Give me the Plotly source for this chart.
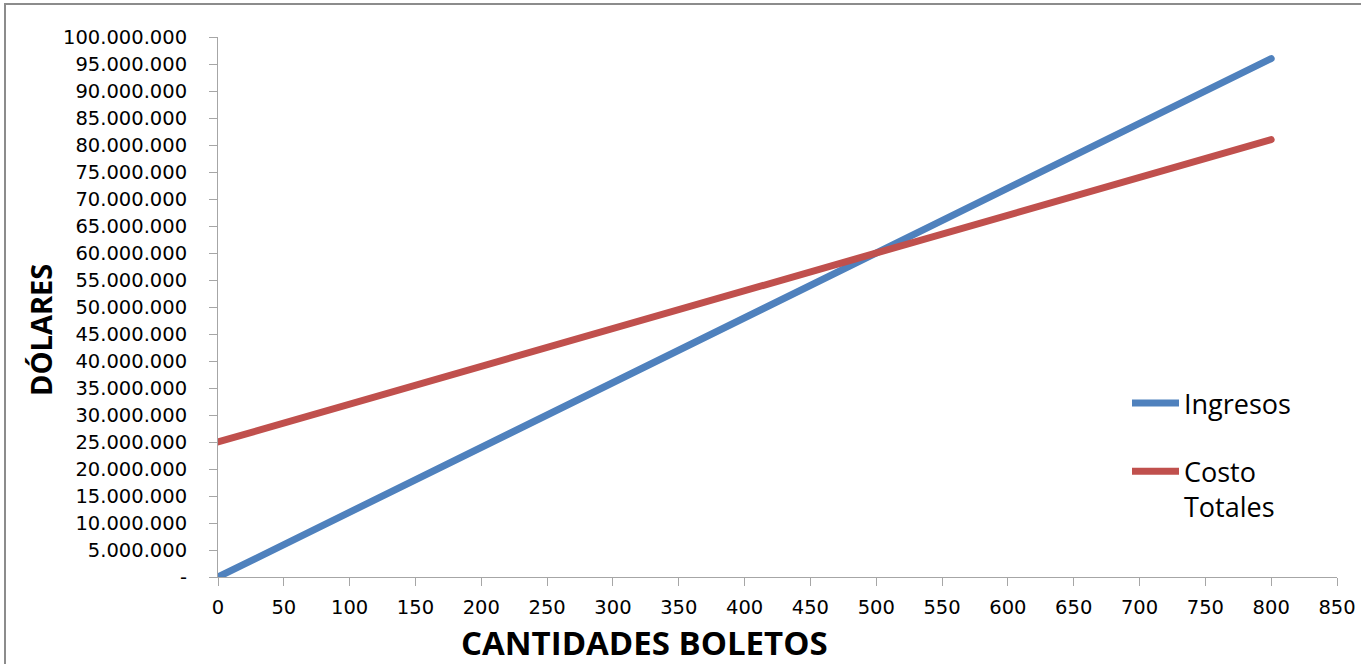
import plotly.graph_objects as go

cantidades = [0, 100, 200, 300, 400, 500, 600, 700, 800]
ingresos = [0, 12000000, 24000000, 36000000, 48000000, 60000000, 72000000, 84000000, 96000000]
costos = [25000000, 32000000, 39000000, 46000000, 53000000, 60000000, 67000000, 74000000, 81000000]

y_ticks = list(range(0, 100000001, 5000000))
y_labels = ["-"] + [f"{v:,}".replace(",", ".") for v in y_ticks[1:]]
x_ticks = list(range(0, 851, 50))

W, H = 1361, 664
L, R, T, B = 218, 24, 37, 87
pw, ph = W - L - R, H - T - B


def px(x):
    return (x - L) / pw


def py(y):
    return (H - y - B) / ph


fig = go.Figure()
fig.add_trace(go.Scatter(x=cantidades, y=ingresos, mode="lines", name="Ingresos",
                         legendgroup="a", line=dict(color="#4F81BD", width=7)))
fig.add_trace(go.Scatter(x=cantidades, y=costos, mode="lines", name="Costo<br>Totales",
                         legendgroup="b", line=dict(color="#C0504D", width=7)))

font = "Open Sans, Liberation Sans, sans-serif"
tickfont = "DejaVu Sans, Open Sans, sans-serif"
fig.update_layout(
    width=W, height=H,
    margin=dict(l=L, r=R, t=T, b=B, autoexpand=False),
    paper_bgcolor="white", plot_bgcolor="white",
    font=dict(family=font, color="black"),
    showlegend=True,
    legend=dict(x=px(1127), y=py(379), xanchor="left", yanchor="top",
                font=dict(size=27, family=font), itemwidth=47, tracegroupgap=30,
                traceorder="grouped", valign="top",
                bgcolor="rgba(0,0,0,0)"),
    xaxis=dict(range=[0, 850], tickvals=x_ticks, ticktext=[str(v) for v in x_ticks],
               automargin=False,
               showgrid=False, zeroline=False, showline=True, linecolor="#A6A6A6", linewidth=1,
               ticks="outside", ticklen=8, tickcolor="#A6A6A6", ticklabelstandoff=5,
               tickfont=dict(size=19.5, family=tickfont)),
    yaxis=dict(range=[0, 100000000], tickvals=y_ticks, ticktext=y_labels,
               automargin=False,
               showgrid=False, zeroline=False, showline=True, linecolor="#A6A6A6", linewidth=1,
               ticks="outside", ticklen=8, tickcolor="#A6A6A6", ticklabelstandoff=18,
               tickfont=dict(size=19.5, family=tickfont)),
    annotations=[
        dict(text="<b>CANTIDADES BOLETOS</b>", xref="paper", yref="paper",
             x=px(644), y=py(642), xanchor="center", yanchor="middle",
             showarrow=False, font=dict(size=33, family=font)),
        dict(text="<b>DÓLARES</b>", xref="paper", yref="paper",
             x=px(41), y=py(330), xanchor="center", yanchor="middle",
             textangle=-90, showarrow=False, font=dict(size=29, family=font)),
    ],
    shapes=[
        dict(type="rect", xref="paper", yref="paper",
             x0=px(5), x1=px(W + 5), y0=py(H + 5), y1=py(4),
             line=dict(color="#8C8C8C", width=2), fillcolor="rgba(0,0,0,0)", layer="below"),
    ],
)

fig.write_html(
    "out.html",
    config={"displayModeBar": False},
    post_script="document.body.style.margin='0';"
                "document.querySelectorAll('.scatterlayer path.js-line').forEach(function(p){p.style.strokeLinecap='round';});",
)
